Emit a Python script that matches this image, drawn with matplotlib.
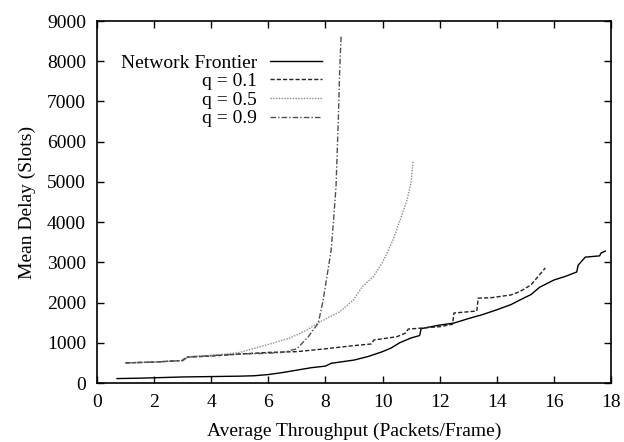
import matplotlib
matplotlib.use("Agg")
import matplotlib.pyplot as plt

# Network Frontier (solid)
nf_x = [0.7, 1.5, 2.0, 3.0, 4.0, 5.0, 5.5, 6.0, 6.5, 7.0, 7.5, 8.0, 8.2, 8.5, 9.0, 9.5,
        10.0, 10.3, 10.6, 11.0, 11.3, 11.35, 11.7, 12.0, 12.5, 13.0, 13.5, 14.0, 14.5,
        14.8, 15.2, 15.5, 16.0, 16.4, 16.8, 16.85, 17.1, 17.6, 17.65, 17.8]
nf_y = [110, 120, 130, 150, 160, 170, 180, 210, 260, 320, 380, 420, 490, 520, 570, 660,
        780, 870, 1000, 1120, 1180, 1350, 1400, 1440, 1490, 1600, 1700, 1820, 1950,
        2060, 2200, 2380, 2560, 2650, 2760, 2930, 3130, 3160, 3230, 3280]

# q = 0.1 (dashed)
q1_x = [1.0, 2.0, 3.0, 3.1, 4.0, 5.0, 6.0, 7.0, 8.0, 9.0, 9.6, 9.7, 10.5, 10.8, 10.9,
        12.0, 12.45, 12.5, 13.3, 13.35, 13.8, 14.5, 14.8, 15.2, 15.7]
q1_y = [500, 520, 560, 640, 670, 720, 760, 780, 850, 930, 970, 1070, 1150, 1240, 1340,
        1400, 1460, 1740, 1790, 2110, 2120, 2190, 2270, 2440, 2860]

# q = 0.5 (dotted)
q5_x = [1.0, 2.0, 3.0, 3.2, 4.0, 4.5, 5.0, 5.7, 6.2, 6.76, 7.3, 7.81, 8.5, 8.97, 9.3,
        9.67, 10.0, 10.37, 10.86, 11.0, 11.07]
q5_y = [500, 520, 560, 650, 690, 720, 760, 900, 1000, 1120, 1300, 1520, 1770, 2060, 2400,
        2640, 3000, 3560, 4550, 5000, 5500]

# q = 0.9 (dash-dot)
q9_x = [1.0, 2.0, 3.0, 3.2, 4.0, 5.0, 6.0, 6.5, 7.0, 7.4, 7.75, 7.92, 8.05, 8.2, 8.3,
        8.37, 8.45, 8.5, 8.55]
q9_y = [500, 520, 560, 650, 680, 720, 740, 760, 850, 1150, 1490, 2060, 2640, 3300, 4200,
        4880, 6540, 7800, 8650]

x_ticks = [0, 2, 4, 6, 8, 10, 12, 14, 16, 18]
y_ticks = [0, 1000, 2000, 3000, 4000, 5000, 6000, 7000, 8000, 9000]

plt.rcParams['font.family'] = ['Liberation Serif', 'DejaVu Serif']
plt.rcParams['font.size'] = 14

fig = plt.figure(figsize=(6.24, 4.42), dpi=100)
ax = fig.add_axes([97/624, 1 - 383/442, (611-97)/624, (383-21)/442])

ax.plot(nf_x, nf_y, color='black', lw=1.0, ls='-', label='Network Frontier')
ax.plot(q1_x, q1_y, color='#222222', lw=1.0, ls=(0, (3, 1.5)), label='q = 0.1')
ax.plot(q5_x, q5_y, color='#8c8c8c', lw=1.0, ls=(0, (1, 1)), label='q = 0.5')
ax.plot(q9_x, q9_y, color='#505050', lw=1.0, ls=(0, (4, 1.5, 1, 1.5)), label='q = 0.9')

ax.set_xlim(0, 18)
ax.set_ylim(0, 9000)
ax.set_xticks(x_ticks)
ax.set_yticks(y_ticks)
ax.tick_params(direction='in', top=True, right=True, length=5, width=1, pad=8, labelsize=14)
for s in ax.spines.values():
    s.set_linewidth(1.2)

ax.set_xlabel('Average Throughput (Packets/Frame)', fontsize=14, labelpad=8)
ax.set_ylabel('Mean Delay (Slots)', fontsize=14, labelpad=8)

leg = fig.legend(loc='upper right', bbox_to_anchor=(322/624, 1 - 54/442),
                 frameon=False, markerfirst=False, borderpad=0, borderaxespad=0,
                 handlelength=2.68, handletextpad=0.67, labelspacing=0.05, fontsize=14)

fig.savefig('out.png', dpi=100)
